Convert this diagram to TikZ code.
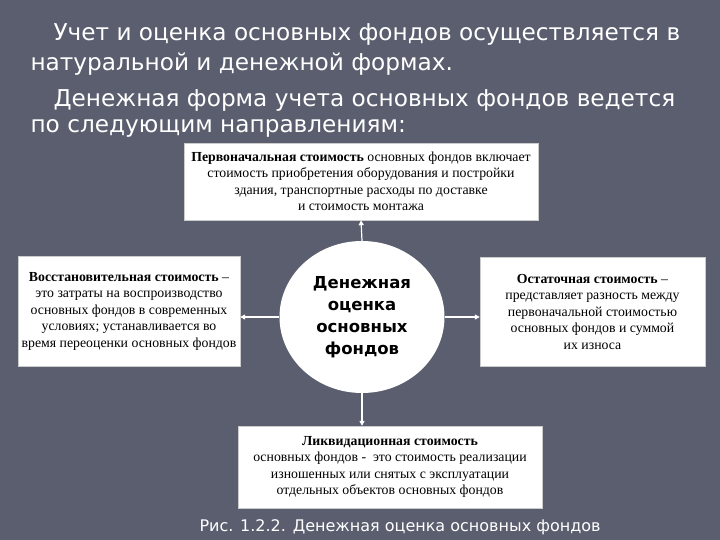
\documentclass[tikz,border=0pt]{standalone}
\usepackage{fontspec}
\setmainfont{Liberation Serif}
\newfontfamily\slidefont{DejaVu Sans}
\usetikzlibrary{positioning,arrows.meta,shapes.geometric}

\definecolor{slidebg}{RGB}{90,94,110}

\tikzset{
  costbox/.style={fill=white, draw=gray!40, align=center, inner sep=1pt,
    font=\fontsize{13.8}{16.5}\selectfont},
  headline/.style={anchor=west, text=white, font=\slidefont\fontsize{23.2}{26}\selectfont},
  link/.style={white, line width=1.2pt, -{Triangle[length=5pt,width=5pt]}}
}

\begin{document}
\begin{tikzpicture}[x=1pt,y=-1pt]
\useasboundingbox (0,0) rectangle (720,540);
\fill[slidebg] (0,0) rectangle (720,540);

% heading text
\node[headline] (h1) at (50,34) {Учет и оценка основных фондов осуществляется в};
\node[headline] (h2) at (27,64) {натуральной и денежной формах.};
\node[headline] (h3) at (50,100) {Денежная форма учета основных фондов ведется};
\node[headline] (h4) at (27,128) {по следующим направлениям:};

% centre
\node[ellipse, fill=white, minimum width=165pt, minimum height=152pt,
  align=center, font=\slidefont\bfseries\fontsize{16.5}{22}\selectfont]
  (money) at (362,317) {Денежная\\оценка\\основных\\фондов};

% four kinds of cost
\node[costbox, minimum width=354pt, minimum height=77pt] (initial) at (361,181.5)
  {\textbf{Первоначальная стоимость} основных фондов включает\\
   стоимость приобретения оборудования и постройки\\
   здания, транспортные расходы по доставке\\
   и стоимость монтажа};
\node[costbox, minimum width=222pt, minimum height=110pt] (restore) at (129,311)
  {\textbf{Восстановительная стоимость} --\\
   это затраты на воспроизводство\\
   основных фондов в современных\\
   условиях; устанавливается во\\
   время переоценки основных фондов};
\node[costbox, minimum width=225pt, minimum height=109pt] (residual) at (592.5,311.5)
  {\textbf{Остаточная стоимость} --\\
   представляет разность между\\
   первоначальной стоимостью\\
   основных фондов и суммой\\
   их износа};
\node[costbox, minimum width=304pt, minimum height=82pt] (liquid) at (390,467)
  {\textbf{Ликвидационная стоимость}\\
   основных фондов -\ \ это стоимость реализации\\
   изношенных или снятых с эксплуатации\\
   отдельных объектов основных фондов};

% arrows
\draw[link] (money.north) -- (initial.south);
\draw[link] (money.west) -- (money.west -| restore.east);
\draw[link] (money.east) -- (money.east -| residual.west);
\draw[link] (money.south) -- (money.south |- liquid.north);

\node[text=white, font=\slidefont\fontsize{16}{19}\selectfont] (caption) at (400,527)
  {Рис. 1.2.2. Денежная оценка основных фондов};
\end{tikzpicture}
\end{document}
